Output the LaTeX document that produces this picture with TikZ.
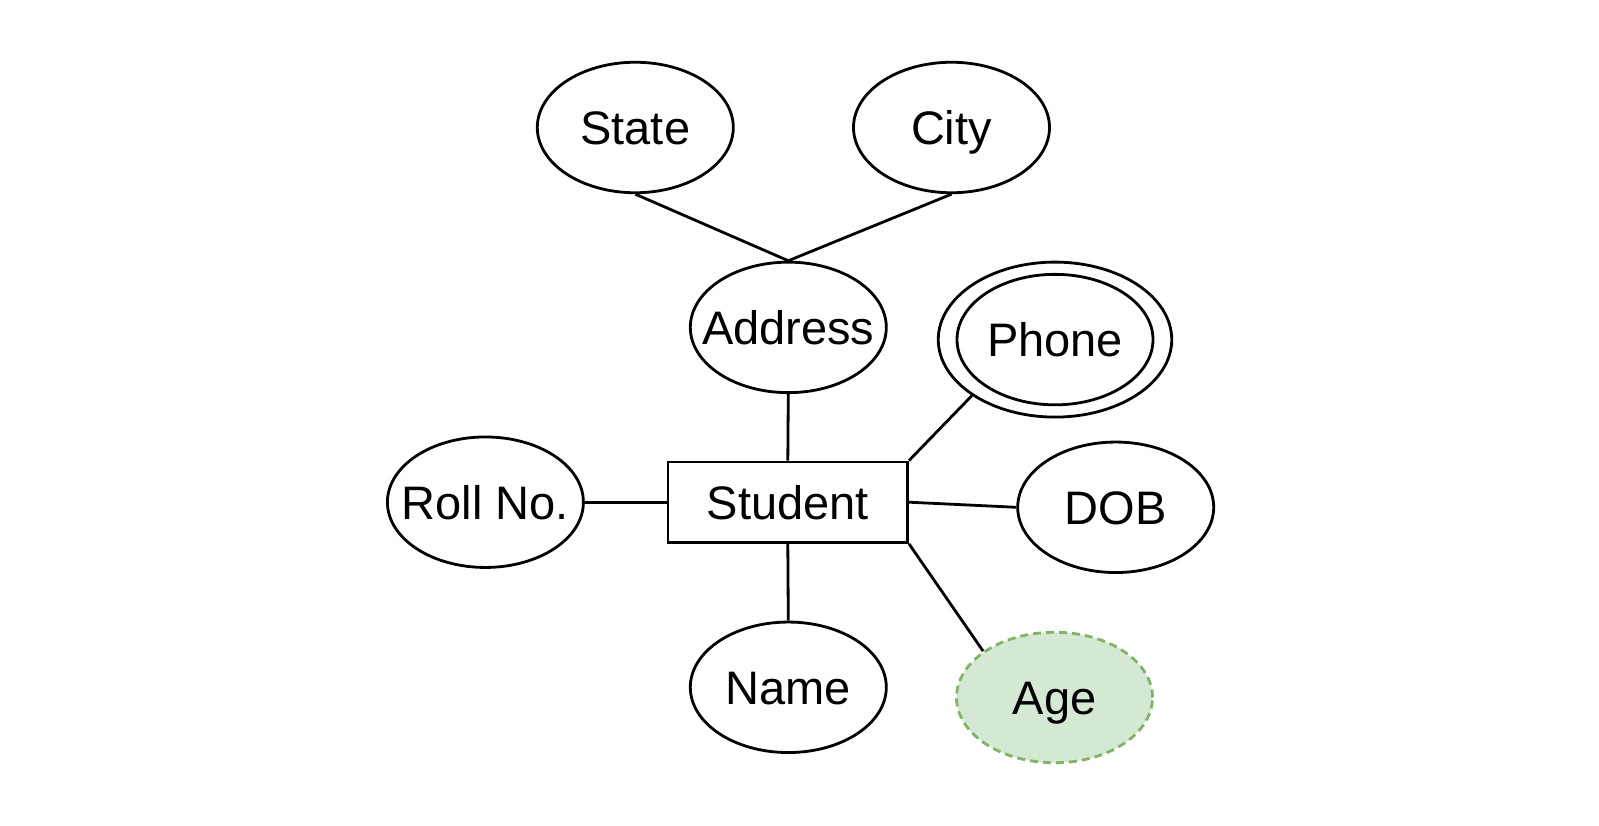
\documentclass[tikz,border=0pt]{standalone}
\usepackage{fontspec}
\setmainfont{Liberation Sans}
\usetikzlibrary{shapes.geometric}
\definecolor{agefill}{HTML}{D5E8D4}
\definecolor{ageline}{HTML}{82B366}
\newcommand{\zw}[1]{\makebox[0pt]{#1}}

\begin{document}
\begin{tikzpicture}[x=1pt,y=-1pt,
  every node/.style={font=\fontsize{47}{56}\selectfont,text height=33.6pt,text depth=0pt,inner sep=0pt},
  attr/.style={ellipse,draw,line width=2.8pt,minimum width=196pt,minimum height=130.5pt},
  entity/.style={rectangle,draw,line width=2.8pt,minimum width=239.6pt,minimum height=80.5pt},
  derived/.style={attr,draw=ageline,fill=agefill,dash pattern=on 8pt off 5pt},
  link/.style={line width=2.8pt}]
  \useasboundingbox (0,0) rectangle (1599,826);
  % entity and its attributes
  \node[entity] (student) at (787.8,502.2) {Student};
  \node[attr] (state) at (635.3,127.5) {\zw{State}};
  \node[attr] (city) at (951.5,127.5) {\zw{City}};
  \node[attr] (address) at (788.3,327.4) {\zw{Address}};
  \node[attr,minimum width=233.5pt,minimum height=155pt] (phoneo) at (1055,339.6) {};
  \node[attr] (phone) at (1055,339.6) {\zw{Phone}};
  \node[attr] (roll) at (485.4,502.2) {\zw{Roll No.}};
  \node[attr] (dob) at (1115.7,507.3) {\zw{DOB}};
  \node[attr] (name) at (788.3,687.3) {\zw{Name}};
  \node[derived] (age) at (1054.5,697.5) {\zw{Age}};

  \draw[link] (state.south) -- (address.north);
  \draw[link] (city.south) -- (address.north);
  \draw[link] (address.south) -- (student.north);
  \draw[link] (phoneo.214) -- (student.north east);
  \draw[link] (roll.east) -- (student.west);
  \draw[link] (student.east) -- (dob.west);
  \draw[link] (student.south) -- (name.north);
  \draw[link] (student.south east) -- (age.147);
\end{tikzpicture}
\end{document}
